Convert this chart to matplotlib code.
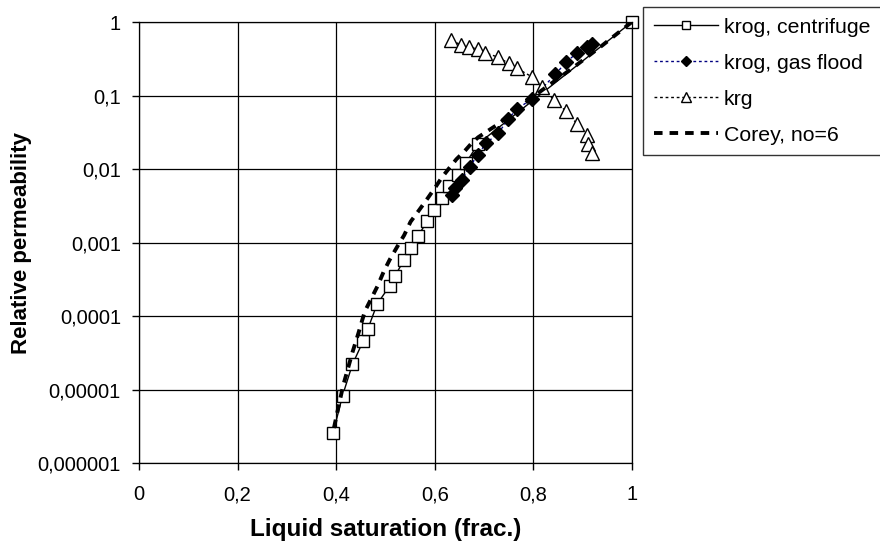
import numpy as np
import matplotlib.pyplot as plt
from matplotlib.ticker import FixedLocator, FuncFormatter

plt.rcParams['font.family'] = ['Liberation Sans', 'DejaVu Sans']

# krog, centrifuge (open squares, solid line)
sl_cent = [0.394, 0.413, 0.433, 0.455, 0.464, 0.483, 0.509, 0.519, 0.538, 0.551,
           0.566, 0.585, 0.598, 0.614, 0.629, 0.648, 0.663, 0.688, 1.0]
kr_cent = [2.6e-6, 8.3e-6, 2.2e-5, 4.6e-5, 6.6e-5, 1.45e-4, 2.6e-4, 3.5e-4, 5.8e-4, 8.3e-4,
           1.23e-3, 1.95e-3, 2.8e-3, 4.1e-3, 5.9e-3, 8.3e-3, 0.012, 0.022, 1.0]

# krog, gas flood (filled diamonds)
sl_gas = [0.635, 0.641, 0.655, 0.671, 0.687, 0.704, 0.729, 0.749, 0.766, 0.797,
          0.845, 0.866, 0.888, 0.908, 0.920]
kr_gas = [4.4e-3, 5.5e-3, 7.2e-3, 0.0107, 0.0155, 0.0224, 0.0306, 0.0479, 0.0649, 0.0896,
          0.194, 0.283, 0.375, 0.461, 0.502]

# krg (open triangles)
sl_krg = [0.634, 0.653, 0.670, 0.687, 0.703, 0.729, 0.750, 0.767, 0.797, 0.818,
          0.842, 0.866, 0.889, 0.908, 0.911, 0.920]
kr_krg = [0.569, 0.486, 0.461, 0.425, 0.382, 0.331, 0.274, 0.234, 0.180, 0.129,
          0.0868, 0.0615, 0.041, 0.029, 0.0219, 0.0164]

# Corey, no=6
sl_corey = [0.3955, 0.406, 0.414, 0.433, 0.445, 0.458, 0.484, 0.497, 0.509, 0.524,
            0.538, 0.551, 0.568, 0.585, 0.602, 0.614, 0.629, 0.644, 0.661, 0.673,
            0.688, 0.705, 0.726, 0.813, 0.880, 0.941, 1.0]
kr_corey = [3.0e-6, 6.4e-6, 1.12e-5, 3.2e-5, 5.8e-5, 1.15e-4, 2.56e-4, 4.1e-4, 5.9e-4, 8.8e-4,
            1.26e-3, 1.92e-3, 2.74e-3, 3.94e-3, 5.74e-3, 7.6e-3, 0.0102, 0.0136, 0.0176, 0.0217,
            0.027, 0.0321, 0.0397, 0.112, 0.237, 0.486, 1.0]

yticks = [1e-6, 1e-5, 1e-4, 1e-3, 1e-2, 1e-1, 1]
xticks = [0, 0.2, 0.4, 0.6, 0.8, 1]

fig = plt.figure(figsize=(8.8, 5.5), dpi=100)
ax = fig.add_axes([0.158, 0.158, 0.56, 0.802])

ax.plot(sl_cent, kr_cent, '-', color='black', lw=1, marker='s', ms=8.5,
        mfc='white', mec='black', mew=1, label='krog, centrifuge', clip_on=False)
ax.plot(sl_gas, kr_gas, color='#000080', lw=1, dashes=(2, 2), marker='D', ms=7,
        mfc='black', mec='black', label='krog, gas flood')
ax.plot(sl_krg, kr_krg, color='black', lw=1, dashes=(2, 2), marker='^', ms=9.5,
        mfc='white', mec='black', mew=1, label='krg')
ax.plot(sl_corey, kr_corey, color='black', lw=2.8, dashes=(2.2, 1.8), label='Corey, no=6')

ax.set_yscale('log')
ax.set_xlim(0, 1)
ax.set_ylim(1e-6, 1)
ax.yaxis.set_major_locator(FixedLocator(yticks))
ax.yaxis.set_minor_locator(FixedLocator([]))
ax.xaxis.set_major_locator(FixedLocator(xticks))

def comma(v, pos):
    # decimal comma, no trailing zeros
    s = np.format_float_positional(v, trim='-')
    return s.replace('.', ',')

ax.xaxis.set_major_formatter(FuncFormatter(comma))
ax.yaxis.set_major_formatter(FuncFormatter(comma))
ax.tick_params(labelsize=14.5, direction='out', length=5, width=1, colors='black', pad=8)
ax.tick_params(axis='x', pad=11)

# top/right edges look like gridlines in the original
ax.grid(True, color='black', lw=0.9)
for s in ['left', 'bottom', 'top', 'right']:
    ax.spines[s].set_linewidth(0.9)

ax.set_xlabel('Liquid saturation (frac.)', fontsize=17.5, fontweight='bold', labelpad=10)
ax.set_ylabel('Relative permeability', fontsize=16, fontweight='bold', labelpad=4)

leg = fig.legend(loc='upper left', bbox_to_anchor=(0.731, 0.987), fontsize=15.3,
                 frameon=True, fancybox=False, edgecolor='black', handlelength=3.0,
                 handletextpad=0.3, markerscale=0.7, borderaxespad=0, labelspacing=0.8,
                 borderpad=0.5)
leg.get_frame().set_linewidth(1)

fig.savefig('out.png', dpi=100)
